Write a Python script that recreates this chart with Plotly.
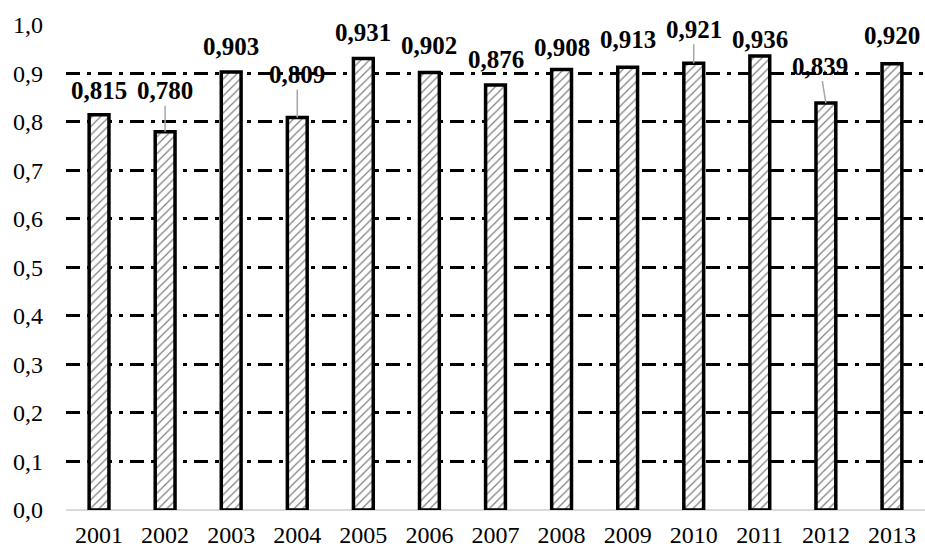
"""Bar chart of yearly index values with hatched bars."""

import plotly.graph_objects as go

years = ["2001", "2002", "2003", "2004", "2005", "2006", "2007",
         "2008", "2009", "2010", "2011", "2012", "2013"]
values = [0.815, 0.780, 0.903, 0.809, 0.931, 0.902, 0.876,
          0.908, 0.913, 0.921, 0.936, 0.839, 0.920]
value_labels = ["0,815", "0,780", "0,903", "0,809", "0,931", "0,902", "0,876",
                "0,908", "0,913", "0,921", "0,936", "0,839", "0,920"]

# label placement (pixel offsets from bar top) and whether a leader line is drawn
label_dy = [-24, -41, -26, -43, -26, -27, -26, -22, -28, -34, -17, -37, -28]
label_dx = [0, 0, 0, 0, 0, 0, 0, 0, 0, 0, 0, -6, 0]
leader = [False, True, False, True, False, False, False, False, False, True, False, True, False]

FONT = "Liberation Serif"

fig = go.Figure()
fig.add_trace(
    go.Bar(
        x=years,
        y=values,
        width=0.3,
        marker=dict(
            color="white",
            line=dict(color="black", width=3.5),
            pattern=dict(shape="/", fgcolor="black", bgcolor="white", size=6, solidity=0.2),
        ),
        showlegend=False,
        hoverinfo="skip",
    )
)

# category index is used for the annotation x so numeric-looking year strings
# are not read as positions
for i, (val, txt, dy, dx, has_line) in enumerate(zip(values, value_labels, label_dy, label_dx, leader)):
    fig.add_annotation(
        x=i,
        y=val,
        text=f"<b>{txt}</b>",
        showarrow=True,
        arrowhead=0,
        arrowwidth=1.5,
        arrowcolor="#a6a6a6" if has_line else "rgba(0,0,0,0)",
        ax=dx,
        ay=dy,
        standoff=0,
        font=dict(family=FONT, size=25, color="black"),
    )

fig.update_layout(
    width=925,
    height=549,
    margin=dict(l=66, r=0, t=24, b=39),
    paper_bgcolor="white",
    plot_bgcolor="white",
    separators=", ",
    font=dict(family=FONT, size=24, color="black"),
)
fig.update_xaxes(
    type="category",
    range=[-0.5, len(years) - 0.5],
    showgrid=False,
    showline=False,
    ticks="",
    ticklabelstandoff=8,
    tickfont=dict(family=FONT, size=24, color="black"),
    automargin=False,
)
fig.update_yaxes(
    range=[0, 1.002],
    dtick=0.1,
    tickformat=".1f",
    showgrid=True,
    gridcolor="black",
    gridwidth=3,
    griddash="14px,7px,4px,7px",
    zeroline=True,
    zerolinecolor="#d9d9d9",
    zerolinewidth=2,
    showline=False,
    ticks="",
    ticklabelstandoff=22,
    tickfont=dict(family=FONT, size=24, color="black"),
    automargin=False,
)

fig.write_html(
    "out.html",
    config={"displayModeBar": False},
    post_script="document.body.style.margin='0';",
)
